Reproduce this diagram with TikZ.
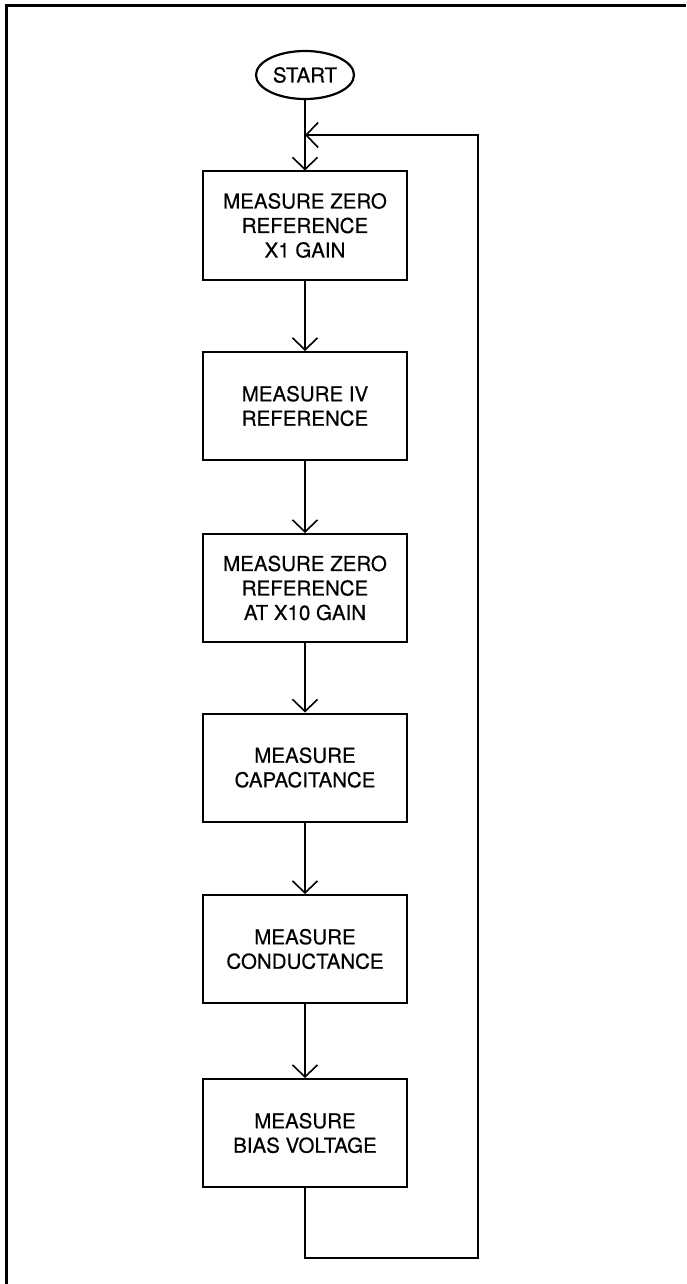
\documentclass[tikz,border=0pt]{standalone}
\usepackage{fontspec}
\setmainfont{TeX Gyre Heros}[FakeBold=0.4]
\usetikzlibrary{arrows.meta,shapes.geometric}
\begin{document}
\begin{tikzpicture}[x=1pt,y=-1pt,
  stepbox/.style={draw,line width=2pt,minimum width=204pt,minimum height=108pt,
    align=center,inner sep=0pt,font=\fontsize{20.5}{24.5}\selectfont},
  startbox/.style={draw,ellipse,line width=2.2pt,minimum width=98pt,minimum height=48pt,
    inner sep=0pt,font=\fontsize{20.5}{24.5}\selectfont},
  flow/.style={line width=1.6pt,-{Straight Barb[length=12pt,width=25pt,line width=1.6pt]}},
  frame/.style={line width=3pt}]
\useasboundingbox (0,0) rectangle (686,1284);
\draw[frame] (6,1284) -- (6,6) -- (686,6);
\node[startbox] (start) at (305,75) {START};
\node[stepbox] (b1) at (305,225.5) {MEASURE ZERO\\REFERENCE\\X1 GAIN};
\node[stepbox] (b2) at (305,406) {MEASURE IV\\REFERENCE};
\node[stepbox] (b3) at (305,588) {MEASURE ZERO\\REFERENCE\\AT X10 GAIN};
\node[stepbox] (b4) at (305,767.5) {MEASURE\\CAPACITANCE};
\node[stepbox] (b5) at (305,949) {MEASURE\\CONDUCTANCE};
\node[stepbox] (b6) at (305,1133) {MEASURE\\BIAS VOLTAGE};
\coordinate (j) at (305,135);
\coordinate (c) at (478,1258);
\draw[flow] (start) -- (b1);
\draw[flow] (b1) -- (b2);
\draw[flow] (b2) -- (b3);
\draw[flow] (b3) -- (b4);
\draw[flow] (b4) -- (b5);
\draw[flow] (b5) -- (b6);
\draw[flow] (b6.south) |- (c) |- (j);
\end{tikzpicture}
\end{document}
